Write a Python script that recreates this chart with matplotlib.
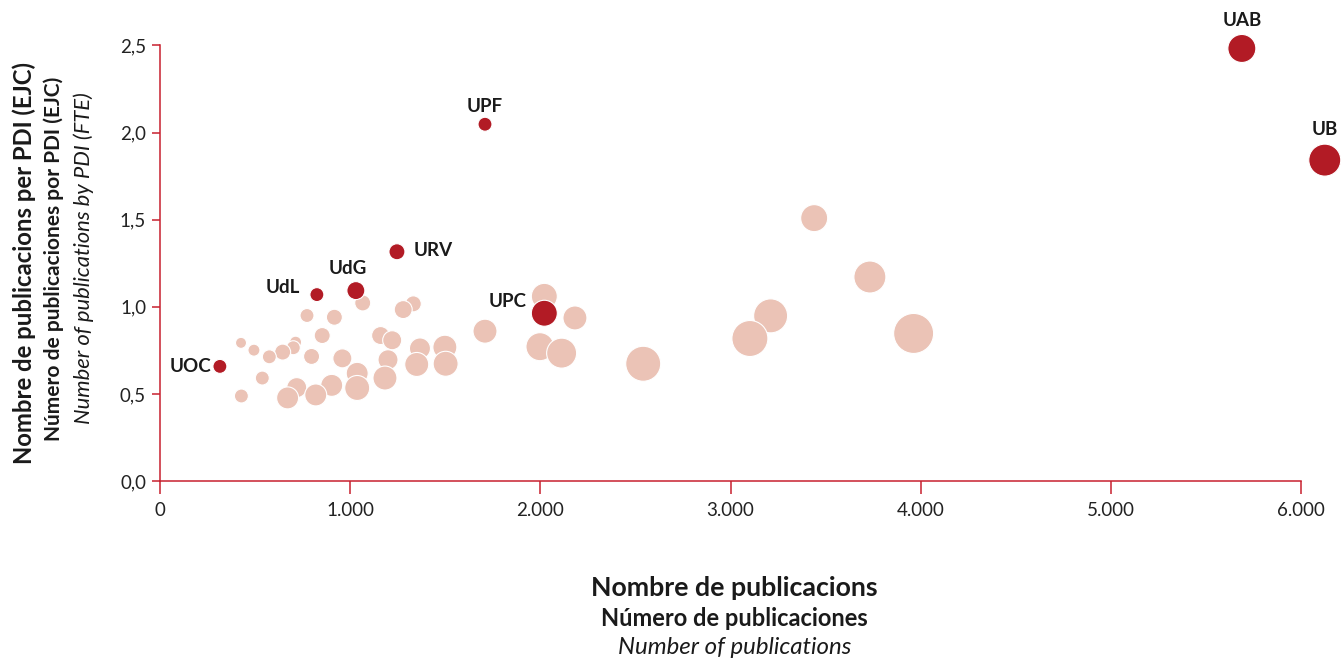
import matplotlib
matplotlib.use("Agg")
import matplotlib.pyplot as plt
import numpy as np

# ---- data ----
# light (other universities/centres)
other_pubs = [1066, 1332, 1279, 773, 917, 1709, 853, 1160, 1221, 426, 713, 701, 494, 645,
              575, 797, 959, 1367, 1498, 1199, 1037, 1350, 1502, 538, 1183, 903, 1037, 719,
              819, 671, 428, 2021, 2182, 1998, 2112, 2541, 3440, 3733, 3211, 3102, 3963]
other_ratio = [1.022, 1.017, 0.984, 0.950, 0.940, 0.860, 0.835, 0.835, 0.808, 0.793, 0.797,
               0.765, 0.751, 0.740, 0.713, 0.715, 0.704, 0.761, 0.768, 0.696, 0.618, 0.669,
               0.673, 0.591, 0.591, 0.549, 0.534, 0.536, 0.494, 0.477, 0.488, 1.060, 0.936,
               0.771, 0.734, 0.673, 1.509, 1.171, 0.948, 0.818, 0.847]
other_pdi = [800, 800, 1010, 610, 800, 1800, 800, 1010, 1130, 380, 450, 610, 450, 800,
             610, 800, 1130, 1380, 1800, 1250, 1510, 1800, 1950, 610, 1800, 1510, 1950, 1250,
             1510, 1510, 610, 2110, 1800, 2450, 2810, 3830, 2280, 3200, 3610, 4050, 5000]

# highlighted Catalan public universities
uni_names = ["UAB", "UB", "UPF", "URV", "UdG", "UdL", "UPC", "UOC"]
uni_pubs = [5689, 6125, 1709, 1246, 1030, 825, 2021, 315]
uni_ratio = [2.483, 1.842, 2.048, 1.316, 1.093, 1.070, 0.963, 0.658]
uni_pdi = [2450, 3200, 610, 800, 1010, 610, 2110, 610]

x_ticks = [0, 1000, 2000, 3000, 4000, 5000, 6000]
x_ticklabels = ["0", "1.000", "2.000", "3.000", "4.000", "5.000", "6.000"]
y_ticks = [0.0, 0.5, 1.0, 1.5, 2.0, 2.5]
y_ticklabels = ["0,0", "0,5", "1,0", "1,5", "2,0", "2,5"]

# ---- style ----
plt.rcParams['font.family'] = ['Lato', 'DejaVu Sans']
AXIS_RED = "#c8202f"
LIGHT = "#ebc3b6"
DARK = "#b21b25"
TXT = "#1a1a1a"

W, H = 1343, 660
fig = plt.figure(figsize=(W / 100, H / 100), dpi=100)
ax = fig.add_axes([160 / W, 1 - 481 / H, (1301 - 160) / W, (481 - 45.5) / H])

def area(p):
    # bubble area proportional to PDI
    r_px = np.sqrt(np.asarray(p) / 12.5)
    return (2 * r_px * 0.72) ** 2

ax.scatter(other_pubs, other_ratio, s=area(other_pdi), c=LIGHT, edgecolors="white",
           linewidths=0.8, zorder=3, clip_on=False)
ax.scatter(uni_pubs, uni_ratio, s=area(uni_pdi), c=DARK, edgecolors="white",
           linewidths=0.8, zorder=4, clip_on=False)

# labels: (name -> offset in points, ha, va)
label_pos = {
    "UAB": ((0, 14), "center", "bottom"),
    "UB": ((0, 16), "center", "bottom"),
    "UPF": ((0, 7), "center", "bottom"),
    "URV": ((12, 1), "left", "center"),
    "UdG": ((-6, 10), "center", "bottom"),
    "UdL": ((-12, 5), "right", "center"),
    "UPC": ((-13, 8.5), "right", "center"),
    "UOC": ((-6, 0), "right", "center"),
}
for n, xv, yv in zip(uni_names, uni_pubs, uni_ratio):
    off, ha, va = label_pos[n]
    ax.annotate(n, (xv, yv), xytext=off, textcoords="offset points", ha=ha, va=va,
                fontsize=13.5, fontweight="bold", color=TXT, zorder=5, annotation_clip=False)

ax.set_xlim(0, 6000)
ax.set_ylim(0, 2.5)
ax.set_xticks(x_ticks)
ax.set_xticklabels(x_ticklabels)
ax.set_yticks(y_ticks)
ax.set_yticklabels(y_ticklabels)

for s in ["top", "right"]:
    ax.spines[s].set_visible(False)
for s in ["left", "bottom"]:
    ax.spines[s].set_color(AXIS_RED)
    ax.spines[s].set_linewidth(1.1)
ax.tick_params(axis="x", colors=AXIS_RED, length=9, width=1.1, labelsize=13.5,
               labelcolor="#222222", pad=6)
ax.tick_params(axis="y", colors=AXIS_RED, length=6, width=1.1, labelsize=13.5,
               labelcolor="#222222", pad=4)
ax.set_facecolor("none")

# axis titles (three languages)
cx = (160 + 1301) / 2 / W
fig.text(cx + 4 / W, 1 - 588 / H, "Nombre de publicacions", ha="center", va="center",
         fontsize=19.3, fontweight="bold", color=TXT)
fig.text(cx + 4 / W, 1 - 618 / H, "Número de publicaciones", ha="center", va="center",
         fontsize=17, fontweight="bold", color=TXT)
fig.text(cx + 4 / W, 1 - 648 / H, "Number of publications", ha="center", va="center",
         fontsize=17.3, fontstyle="italic", color=TXT)

fig.text(24 / W, 1 - 263 / H, "Nombre de publicacions per PDI (EJC)", rotation=90,
         ha="center", va="center", fontsize=17.2, fontweight="bold", color=TXT)
fig.text(54 / W, 1 - 259 / H, "Número de publicaciones por PDI (EJC)", rotation=90,
         ha="center", va="center", fontsize=15, fontweight="bold", color=TXT)
fig.text(84 / W, 1 - 258 / H, "Number of publications by PDI (FTE)", rotation=90,
         ha="center", va="center", fontsize=15.8, fontstyle="italic", color=TXT)

fig.savefig("out.png", dpi=100, facecolor="white")
